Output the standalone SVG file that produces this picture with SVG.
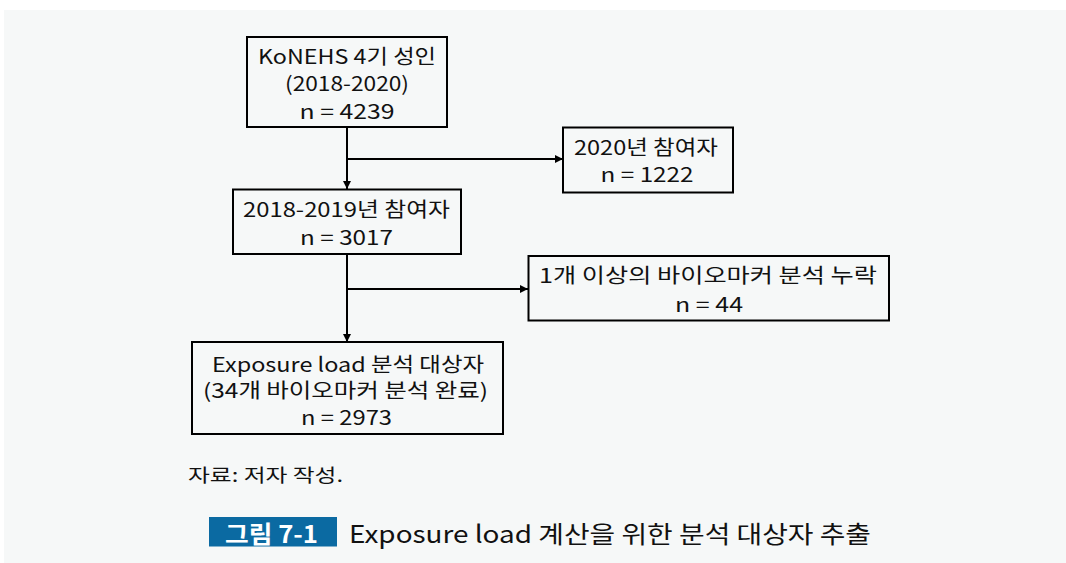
<svg xmlns="http://www.w3.org/2000/svg" width="1066" height="563" viewBox="0 0 1066 563">
<style>
.bx{fill:none;stroke:#000;stroke-width:2}
.t{font-family:"Noto Sans CJK KR","Noto Sans",sans-serif;font-size:20px;fill:#111;text-anchor:middle}
.ln{stroke:#000;stroke-width:2;fill:none}
.cap{font-family:"Noto Sans CJK KR","Noto Sans",sans-serif;font-size:18px;fill:#111}
</style>
<defs>
<marker id="ah" viewBox="0 0 10 10" refX="10" refY="5" markerWidth="4" markerHeight="4" orient="auto" markerUnits="strokeWidth">
<path d="M0,0 L10,5 L0,10 z" fill="#000"/>
</marker>
</defs>
<rect x="4" y="10" width="1062" height="553" fill="#f6f8f8"/>
<g id="connectors">
<line class="ln" x1="347" y1="127" x2="347" y2="189" marker-end="url(#ah)"/>
<line class="ln" x1="347" y1="159" x2="563" y2="159" marker-end="url(#ah)"/>
<line class="ln" x1="347" y1="254" x2="347" y2="342" marker-end="url(#ah)"/>
<line class="ln" x1="347" y1="289" x2="528" y2="289" marker-end="url(#ah)"/>
</g>
<g id="n1">
<rect class="bx" x="247" y="37" width="200" height="90"/>
<text class="t" x="347" y="63.5" textLength="178" lengthAdjust="spacingAndGlyphs">KoNEHS 4기 성인</text>
<text class="t" x="347" y="91" textLength="124" lengthAdjust="spacingAndGlyphs">(2018-2020)</text>
<text class="t" x="347" y="118.5" textLength="95" lengthAdjust="spacingAndGlyphs">n = 4239</text>
</g>
<g id="n2">
<rect class="bx" x="563" y="127.5" width="170" height="65"/>
<text class="t" x="646" y="155" textLength="144" lengthAdjust="spacingAndGlyphs">2020년 참여자</text>
<text class="t" x="647" y="181.7" textLength="93" lengthAdjust="spacingAndGlyphs">n = 1222</text>
</g>
<g id="n3">
<rect class="bx" x="233" y="189.5" width="228" height="64.5"/>
<text class="t" x="346.5" y="217.3" textLength="207" lengthAdjust="spacingAndGlyphs">2018-2019년 참여자</text>
<text class="t" x="346.5" y="245" textLength="93" lengthAdjust="spacingAndGlyphs">n = 3017</text>
</g>
<g id="n4">
<rect class="bx" x="528.5" y="256" width="360.5" height="64.5"/>
<text class="t" x="708" y="283.3" textLength="338" lengthAdjust="spacingAndGlyphs">1개 이상의 바이오마커 분석 누락</text>
<text class="t" x="709" y="311.7" textLength="68" lengthAdjust="spacingAndGlyphs">n = 44</text>
</g>
<g id="n5">
<rect class="bx" x="192" y="342" width="311" height="92"/>
<text class="t" x="348" y="371.7" textLength="272" lengthAdjust="spacingAndGlyphs">Exposure load 분석 대상자</text>
<text class="t" x="345.5" y="398.3" textLength="285" lengthAdjust="spacingAndGlyphs">(34개 바이오마커 분석 완료)</text>
<text class="t" x="346.5" y="424.5" textLength="91" lengthAdjust="spacingAndGlyphs">n = 2973</text>
</g>
<text class="cap" x="188" y="482" textLength="155" lengthAdjust="spacingAndGlyphs">자료: 저자 작성.</text>
<rect x="209" y="517" width="128" height="29.5" fill="#0b6aa2"/>
<text x="225" y="543" font-family="'Noto Sans CJK KR','Noto Sans',sans-serif" font-size="24" font-weight="bold" fill="#fff" textLength="93" lengthAdjust="spacingAndGlyphs">그림 7-1</text>
<text x="349" y="543" font-family="'Noto Sans CJK KR','Noto Sans',sans-serif" font-size="24" fill="#111" textLength="522" lengthAdjust="spacingAndGlyphs">Exposure load 계산을 위한 분석 대상자 추출</text>
</svg>
